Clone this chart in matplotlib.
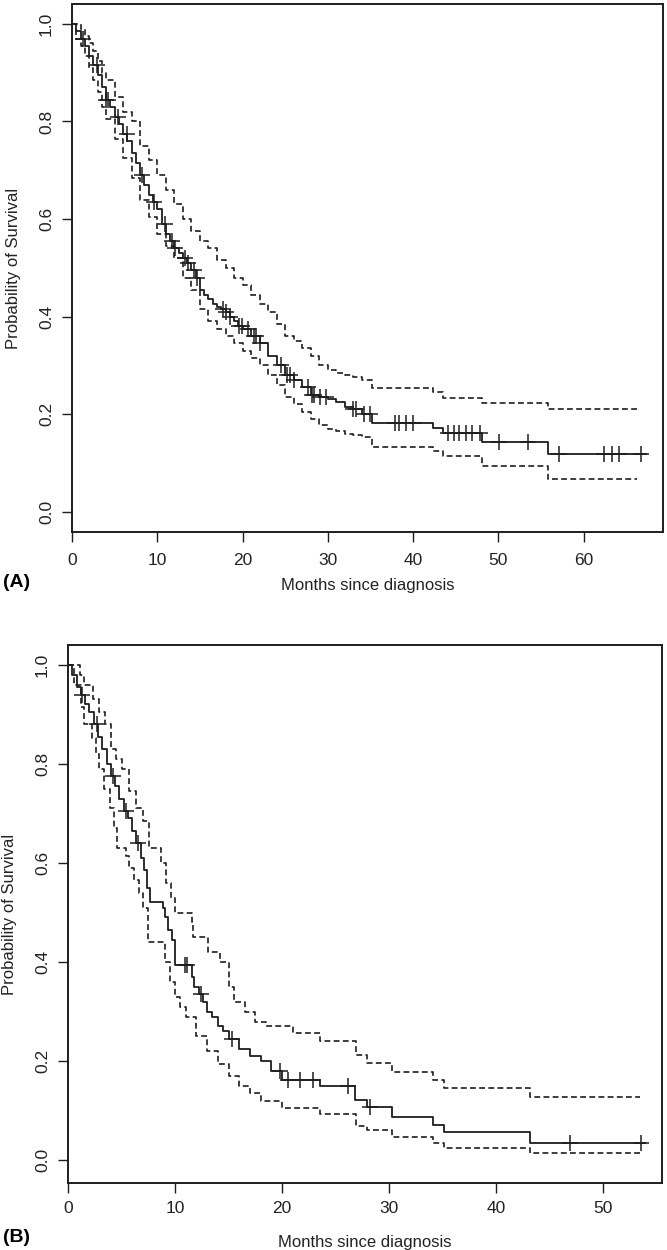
import numpy as np
import matplotlib
matplotlib.use("Agg")
import matplotlib.pyplot as plt

plt.rcParams["font.family"] = ["Liberation Sans", "DejaVu Sans"]

# ---- Panel A: KM estimate with 95% CI ----
a_time = [0, 0.5, 1.0, 1.5, 2.0, 2.5, 3.0, 3.5, 4.0, 4.5, 5.0, 5.5, 6.0, 6.5, 7.0, 7.5,
          8.0, 8.5, 9.0, 9.5, 10.0, 10.5, 11.0, 11.5, 12.0, 12.5, 13.0, 13.5, 14.0, 14.5,
          15.0, 15.5, 16.0, 16.5, 17.0, 17.5, 18.0, 18.5, 19.0, 19.5, 20.0, 21.0, 22.0,
          23.0, 24.0, 25.0, 26.0, 27.0, 28.0, 29.0, 30.0, 31.0, 32.0, 33.0, 34.0, 35.2,
          42.3, 43.5, 48.1, 55.8]
a_surv = [1.0, 0.985, 0.97, 0.955, 0.935, 0.915, 0.895, 0.87, 0.845, 0.83, 0.81, 0.795,
          0.775, 0.76, 0.735, 0.715, 0.69, 0.67, 0.65, 0.635, 0.62, 0.59, 0.57, 0.555,
          0.54, 0.53, 0.52, 0.51, 0.495, 0.48, 0.455, 0.445, 0.435, 0.425, 0.42, 0.415,
          0.41, 0.40, 0.39, 0.38, 0.375, 0.36, 0.345, 0.32, 0.30, 0.28, 0.27, 0.255, 0.24,
          0.235, 0.23, 0.225, 0.215, 0.21, 0.20, 0.182, 0.171, 0.161, 0.143, 0.118]
a_end = 67.3

a_ci_time = [0, 0.5, 1.0, 1.5, 2.0, 2.5, 3.0, 3.5, 4.0, 5.0, 6.0, 7.0, 8.0, 9.0, 10.0,
             11.0, 12.0, 13.0, 14.0, 15.0, 16.0, 17.0, 18.0, 19.0, 20.0, 21.0, 22.0, 23.0,
             24.0, 25.0, 26.0, 27.0, 28.0, 29.0, 30.0, 31.0, 32.0, 33.0, 34.0, 35.2, 42.3,
             43.5, 48.1, 55.8]
a_upper = [1.0, 1.0, 0.99, 0.975, 0.96, 0.945, 0.925, 0.90, 0.885, 0.85, 0.82, 0.80,
           0.75, 0.72, 0.69, 0.66, 0.63, 0.60, 0.575, 0.555, 0.54, 0.515, 0.50, 0.48,
           0.465, 0.445, 0.425, 0.41, 0.385, 0.36, 0.35, 0.335, 0.32, 0.30, 0.29, 0.285,
           0.28, 0.275, 0.27, 0.253, 0.245, 0.233, 0.222, 0.21]
a_lower = [1.0, 0.97, 0.955, 0.935, 0.91, 0.885, 0.86, 0.83, 0.805, 0.765, 0.725, 0.685,
           0.64, 0.605, 0.57, 0.545, 0.52, 0.48, 0.455, 0.415, 0.39, 0.375, 0.36, 0.345,
           0.33, 0.315, 0.30, 0.28, 0.26, 0.235, 0.22, 0.205, 0.19, 0.178, 0.17, 0.165,
           0.16, 0.157, 0.153, 0.133, 0.125, 0.114, 0.094, 0.067]
a_ci_end = 66.2

a_censor = [1.3, 2.9, 4.0, 4.2, 5.4, 6.4, 8.2, 9.6, 10.9, 11.7, 12.1, 13.3, 13.6, 14.3,
            14.6, 17.7, 18.1, 18.5, 19.6, 19.9, 20.6, 21.3, 21.6, 22.1, 24.5, 25.2, 25.6,
            26.0, 27.7, 28.1, 28.4, 29.1, 29.8, 33.0, 33.3, 34.2, 35.0, 37.9, 38.4, 39.2,
            40.0, 44.1, 44.8, 45.4, 46.2, 46.9, 47.8, 50.1, 53.5, 57.1, 62.4, 63.3, 64.1,
            66.7]

# ---- Panel B ----
b_time = [0, 0.4, 0.8, 1.2, 1.6, 2.0, 2.4, 2.8, 3.2, 3.6, 4.0, 4.4, 4.8, 5.2, 5.6, 6.0,
          6.4, 6.8, 7.1, 7.4, 7.7, 8.9, 9.1, 9.35, 9.7, 10.0, 11.6, 11.8, 12.2, 12.6,
          13.0, 13.5, 14.0, 14.5, 15.0, 16.0, 17.0, 18.0, 19.0, 20.0, 23.5, 26.8, 27.9,
          30.3, 34.1, 35.1, 43.2]
b_surv = [1.0, 0.98, 0.955, 0.94, 0.92, 0.905, 0.88, 0.855, 0.83, 0.80, 0.775, 0.755,
          0.73, 0.705, 0.69, 0.665, 0.64, 0.61, 0.585, 0.55, 0.522, 0.51, 0.49, 0.465,
          0.445, 0.394, 0.37, 0.35, 0.335, 0.32, 0.30, 0.29, 0.27, 0.26, 0.245, 0.225,
          0.21, 0.20, 0.18, 0.162, 0.149, 0.121, 0.107, 0.087, 0.072, 0.057, 0.035]
b_end = 53.9

b_up_time = [0, 1.1, 1.5, 2.3, 2.9, 3.5, 4.0, 4.5, 5.0, 5.7, 6.4, 7.0, 7.6, 8.7, 9.2,
             9.6, 10.0, 11.6, 11.7, 13.1, 14.2, 15.0, 15.5, 16.5, 17.5, 18.5, 21.0, 23.5,
             26.9, 27.9, 30.3, 34.1, 35.1, 43.2]
b_upper = [1.0, 0.98, 0.96, 0.93, 0.905, 0.88, 0.83, 0.81, 0.79, 0.745, 0.71, 0.685,
           0.63, 0.60, 0.56, 0.53, 0.50, 0.48, 0.45, 0.42, 0.40, 0.35, 0.32, 0.30, 0.28,
           0.27, 0.256, 0.24, 0.212, 0.197, 0.178, 0.162, 0.145, 0.128]
b_lo_time = [0, 0.6, 1.2, 1.5, 2.2, 2.6, 2.9, 3.4, 3.9, 4.3, 4.6, 5.4, 5.7, 6.2, 6.6,
             7.0, 7.5, 9.1, 9.5, 10.0, 10.5, 11.0, 12.0, 13.0, 14.0, 15.0, 16.0, 17.0,
             18.0, 20.0, 23.5, 26.9, 27.9, 30.3, 34.1, 35.1, 43.2]
b_lower = [1.0, 0.96, 0.915, 0.88, 0.853, 0.82, 0.79, 0.75, 0.71, 0.67, 0.63, 0.615,
           0.59, 0.565, 0.54, 0.51, 0.44, 0.40, 0.36, 0.33, 0.31, 0.29, 0.25, 0.22,
           0.195, 0.17, 0.15, 0.135, 0.12, 0.105, 0.094, 0.07, 0.06, 0.046, 0.035,
           0.024, 0.015]
b_ci_end = 53.4

b_censor = [1.3, 2.7, 4.2, 5.4, 6.5, 10.9, 11.1, 12.4, 15.3, 19.8, 20.6, 21.7, 22.9,
            26.2, 28.2, 46.9, 53.5]

INK = "#1e1e1e"


def step_at(times, vals, t):
    idx = np.searchsorted(times, t, side="right") - 1
    return np.asarray(vals)[idx]


def km_panel(ax, t, s, end, t_up, up, t_lo, lo, ci_end, censor, xmax, ylow, yhigh,
             xticks, xpad, xlabelpad):
    ax.step(list(t) + [end], list(s) + [s[-1]], where="post", color=INK, lw=1.3)
    ax.step(list(t_up) + [ci_end], list(up) + [up[-1]], where="post", color=INK,
            lw=1.2, ls=(0, (3.5, 2)))
    ax.step(list(t_lo) + [ci_end], list(lo) + [lo[-1]], where="post", color=INK,
            lw=1.2, ls=(0, (3.5, 2)))
    ax.plot(censor, step_at(t, s, censor), ls="none", marker="+", ms=12, mew=1.1,
            color=INK)
    ax.set_xlim(0, xmax)
    ax.set_ylim(ylow, yhigh)
    ax.set_xticks(xticks)
    ax.set_yticks([0.0, 0.2, 0.4, 0.6, 0.8, 1.0])
    ax.set_yticklabels(["0.0", "0.2", "0.4", "0.6", "0.8", "1.0"], rotation=90,
                       va="center")
    ax.tick_params(direction="out", length=7, width=1, labelsize=12.5, color=INK,
                   labelcolor="#222222")
    ax.tick_params(axis="x", pad=xpad)
    ax.tick_params(axis="y", pad=6)
    for sp in ax.spines.values():
        sp.set_linewidth(1.4)
        sp.set_color(INK)
    ax.set_xlabel("Months since diagnosis", fontsize=12, color="#222222",
                  labelpad=xlabelpad)
    ax.set_ylabel("Probability of Survival", fontsize=12, color="#222222", labelpad=13)


fig = plt.figure(figsize=(6.67, 12.5), dpi=100)

ax_a = fig.add_axes([72 / 667, 718 / 1250, 591 / 667, 528 / 1250])
km_panel(ax_a, a_time, a_surv, a_end, a_ci_time, a_upper, a_ci_time, a_lower, a_ci_end,
         a_censor, 69.3, -0.042, 1.041, [0, 10, 20, 30, 40, 50, 60], 8, 7)

ax_b = fig.add_axes([68 / 667, 67 / 1250, 594 / 667, 538 / 1250])
km_panel(ax_b, b_time, b_surv, b_end, b_up_time, b_upper, b_lo_time, b_lower, b_ci_end,
         b_censor, 55.5, -0.046, 1.04, [0, 10, 20, 30, 40, 50], 6, 14)

fig.text(3 / 667, 1 - 583 / 1250, "(A)", fontsize=14, fontweight="bold", va="center")
fig.text(3 / 667, 1 - 1238 / 1250, "(B)", fontsize=14, fontweight="bold", va="center")

fig.savefig("out.png", dpi=100)
